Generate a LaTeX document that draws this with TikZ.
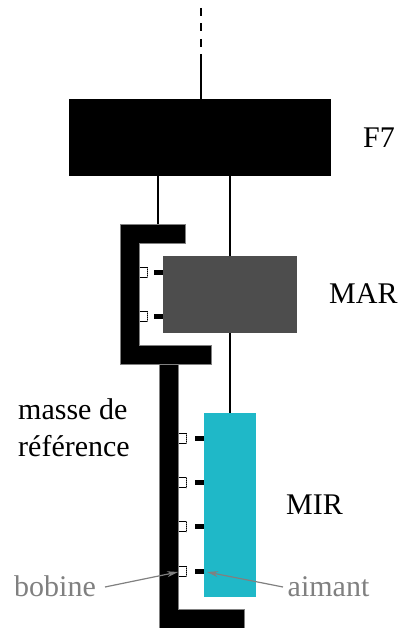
\documentclass[tikz,border=0pt]{standalone}
\usepackage{fontspec}
\setmainfont{Liberation Serif}
\usetikzlibrary{arrows.meta}
\definecolor{marg}{HTML}{4D4D4D}
\definecolor{mirc}{HTML}{1FB8C8}
\definecolor{lbl}{HTML}{808080}
\tikzset{
  x=1pt,y=-1pt,
  block/.style={fill=#1,draw=none,inner sep=0pt,outer sep=0pt},
  wire/.style={line width=2pt,black},
  massbar/.style={fill=black,draw=lbl,line width=0.4pt},
  coilbody/.style={draw=lbl,fill=white,line width=0.8pt},
  magnet/.style={fill=black},
  txt/.style={font=\fontsize{30pt}{37pt}\selectfont,inner sep=0pt,text=black},
  gtxt/.style={txt,text=lbl},
  pointer/.style={draw=lbl,line width=1.2pt,-{Stealth[length=11pt,width=6pt]}},
}
\newcommand{\coilat}[2]{%
  \fill[coilbody] (#1,#2-5) rectangle (#1+7.5,#2+5);
  \draw[black,line width=0.8pt] (#1,#2-5) -- (#1+7.5,#2-5);
  \draw[black,line width=0.8pt] (#1,#2+5) -- (#1+7.5,#2+5);
  \draw[black,line width=0.9pt,dash pattern=on 1.2pt off 0.8pt] (#1+8,#2-5) -- (#1+8,#2+5);
}
\begin{document}
\begin{tikzpicture}
\useasboundingbox (0,0) rectangle (398,628);
% blocks
\node[block=black,minimum width=262pt,minimum height=77pt] (F) at (200,137.5) {};
\node[block=marg,minimum width=134pt,minimum height=77pt] (MA) at (230,294.5) {};
\node[block=mirc,minimum width=52pt,minimum height=184pt] (MI) at (230,505) {};
% wires
\coordinate (top) at (200.5,8);
\coordinate (mid) at (200.5,56);
\draw[wire,dash pattern=on 8pt off 7.5pt] (top) -- (mid);
\draw[wire] (mid) -- (F.north -| mid);
\draw[wire] (158,176) -- (158,224);
\draw[wire] (F.south -| MA.north) -- (MA.north);
\draw[wire] (MA.south) -- (MI.north);
% upper frame
\draw[massbar] (120.5,224) -- (185,224) -- (185,243) -- (139.5,243) -- (139.5,345) -- (211,345) -- (211,364.5) -- (120.5,364.5) -- cycle;
% lower frame
\fill[black] (159,364) rectangle (178,372);
\draw[massbar] (159,364.5) -- (178,364.5) -- (178,609) -- (244,609) -- (244,628) -- (159,628) -- cycle;
% coils and magnets
\foreach \y in {272,316}{
  \coilat{139.5}{\y}
  \fill[magnet] (154,\y-2.5) rectangle (163,\y+2.5);
}
\foreach \y in {438,482.5,526.5,571}{
  \coilat{178.5}{\y}
  \fill[magnet] (195,\y-2.5) rectangle (204,\y+2.5);
}
% labels
\node[txt,anchor=west] (tF) at (363,138) {F7};
\node[txt,anchor=west] (tA) at (329,294) {MAR};
\node[txt,anchor=west] (tI) at (286,505) {MIR};
\node[txt,anchor=west,align=left] (tm) at (18,428) {masse de\\référence};
\node[gtxt,anchor=west] (tb) at (14,586) {bobine};
\node[gtxt,anchor=west] (ta) at (287.5,587) {aimant};
\coordinate (bs) at (105,587);
\coordinate (be) at (178,572);
\coordinate (as) at (283,587);
\coordinate (ae) at (207,572);
\draw[pointer] (bs) -- (be);
\draw[pointer] (as) -- (ae);
\end{tikzpicture}
\end{document}
